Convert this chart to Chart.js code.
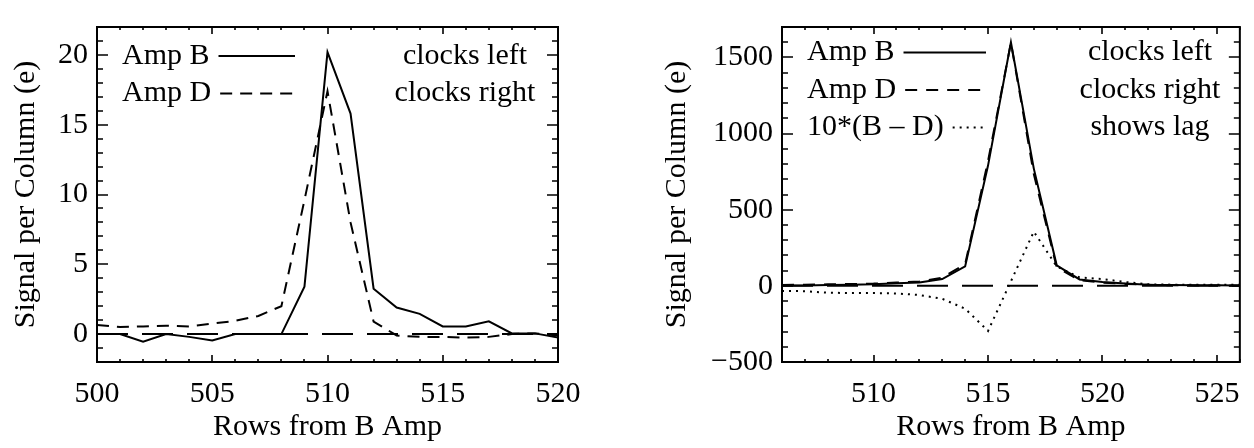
<!DOCTYPE html>
<html>
<head>
<meta charset="utf-8">
<script src="https://cdn.jsdelivr.net/npm/chart.js@4/dist/chart.umd.min.js"></script>
<style>
  html, body { margin: 0; padding: 0; background: #fff; }
  #wrap { position: relative; width: 1254px; height: 448px; overflow: hidden; }
  canvas { position: absolute; top: 0; }
</style>
</head>
<body>
<div id="wrap">
  <canvas id="faint" width="610" height="448" style="left:0"></canvas>
  <canvas id="bright" width="614" height="448" style="left:640px"></canvas>
</div>
<script>
// ---- Faint trail panel ----
const rowsFaint = [500, 501, 502, 503, 504, 505, 506, 507, 508, 509, 510,
                   511, 512, 513, 514, 515, 516, 517, 518, 519, 520];
const ampBFaint = [0.0, 0.0, -0.55, 0.0, -0.2, -0.45, 0.0, 0.0, 0.0, 3.4, 20.2,
                   15.8, 3.25, 1.9, 1.45, 0.55, 0.55, 0.92, 0.05, 0.05, -0.25];
const ampDFaint = [0.65, 0.5, 0.55, 0.6, 0.55, 0.75, 0.95, 1.3, 2.0, 9.6, 17.4,
                   8.0, 0.9, -0.1, -0.2, -0.2, -0.25, -0.2, 0.0, 0.05, -0.1];
const xTicksFaint = [500, 505, 510, 515, 520];
const yTicksFaint = [0, 5, 10, 15, 20];
const notesFaint = ['clocks left', 'clocks right'];

// ---- Bright trail panel ----
const rowsBright = [506, 507, 508, 509, 510, 511, 512, 513, 514, 515, 516,
                    517, 518, 519, 520, 521, 522, 523, 524, 525, 526];
const ampBBright = [3, 3, 5, 7, 10, 17, 22, 45, 128, 790, 1600,
                    770, 135, 42, 25, 15, 8, 5, 4, 4, 3];
const ampDBright = [6, 7, 10, 12, 15, 22, 28, 54, 143, 820, 1597,
                    734, 122, 37, 21, 13, 7, 4, 3, 3, 2];
const lagBright  = [-33, -35, -45, -47, -47, -50, -60, -85, -150, -296, 30,
                    356, 128, 55, 45, 25, 10, 8, 8, 8, 8];
const xTicksBright = [510, 515, 520, 525];
const yTicksBright = [-500, 0, 500, 1000, 1500];
const notesBright = ['clocks left', 'clocks right', 'shows lag'];

const zeroLevel = 0;
const SERIF = 'Liberation Serif';

const pts = (xs, ys) => xs.map((x, i) => ({ x: x, y: ys[i] }));
const fmt = v => String(v).replace('-', '\u2212');

// Box frame, inward minor/major ticks on all four sides, and the in-plot key
const frameAndKey = {
  id: 'frameAndKey',
  afterDatasetsDraw(chart, args, o) {
    const { ctx, chartArea: a } = chart;
    const x = chart.scales.x, y = chart.scales.y;
    ctx.save();
    ctx.strokeStyle = '#000';
    ctx.fillStyle = '#000';
    ctx.setLineDash([]);
    ctx.lineWidth = 2;
    ctx.strokeRect(a.left, a.top, a.right - a.left, a.bottom - a.top);

    ctx.lineWidth = 1.6;
    ctx.beginPath();
    const nx = Math.round(o.xMajor / o.xStep);
    for (let i = Math.ceil(x.min / o.xStep); i * o.xStep <= x.max + 1e-9; i++) {
      const px = Math.round(x.getPixelForValue(i * o.xStep));
      const len = (i % nx === 0) ? 7 : 3;
      ctx.moveTo(px, a.bottom); ctx.lineTo(px, a.bottom - len);
      ctx.moveTo(px, a.top); ctx.lineTo(px, a.top + len);
    }
    const ny = Math.round(o.yMajor / o.yStep);
    for (let i = Math.ceil(y.min / o.yStep); i * o.yStep <= y.max + 1e-9; i++) {
      const py = Math.round(y.getPixelForValue(i * o.yStep));
      const len = (i % ny === 0) ? 11 : 6;
      ctx.moveTo(a.left, py); ctx.lineTo(a.left + len, py);
      ctx.moveTo(a.right, py); ctx.lineTo(a.right - len, py);
    }
    ctx.stroke();

    // key rows: series name + line sample on the left, note centred on the right
    ctx.font = '30px "' + SERIF + '"';
    ctx.textBaseline = 'middle';
    o.keyRows.forEach((dsIndex, r) => {
      const ds = chart.data.datasets[dsIndex];
      const ry = a.top + o.keyTop + r * 37.5;
      ctx.textAlign = 'left';
      const tx = a.left + 25;
      ctx.fillText(ds.label, tx, ry);
      const w = ctx.measureText(ds.label).width;
      ctx.beginPath();
      ctx.lineWidth = ds.borderWidth;
      ctx.setLineDash(ds.borderDash || []);
      ctx.moveTo(tx + w + 9, ry);
      ctx.lineTo(a.left + o.sampleEnd, ry);
      ctx.stroke();
      ctx.setLineDash([]);
      ctx.textAlign = 'center';
      ctx.fillText(o.notes[r], a.left + 368, ry);
    });
    ctx.restore();
  }
};

function axisX(min, max, tickList) {
  return {
    type: 'linear', min: min, max: max,
    grid: { display: false, drawTicks: false },
    border: { display: false },
    afterBuildTicks: s => { s.ticks = tickList.map(v => ({ value: v })); },
    afterFit: s => { s.height = 86; },
    ticks: {
      autoSkip: false, maxRotation: 0, padding: 14, color: '#000',
      font: { family: SERIF, size: 30 }, callback: fmt
    },
    title: {
      display: true, text: 'Rows from B Amp', color: '#000',
      font: { family: SERIF, size: 30 }, padding: { top: 0, bottom: 3 }
    }
  };
}

function axisY(min, max, tickList, boxWidth, titlePad) {
  return {
    type: 'linear', min: min, max: max,
    grid: { display: false, drawTicks: false },
    border: { display: false },
    afterBuildTicks: s => { s.ticks = tickList.map(v => ({ value: v })); },
    afterFit: s => { s.width = boxWidth; },
    ticks: {
      autoSkip: false, padding: 9, color: '#000',
      font: { family: SERIF, size: 30 }, callback: fmt
    },
    title: {
      display: true, text: 'Signal per Column (e)', color: '#000',
      font: { family: SERIF, size: 30 }, padding: { top: titlePad, bottom: 0 }
    }
  };
}

function lineSet(label, data, dash) {
  return {
    label: label, data: data, borderColor: '#000', borderWidth: 2,
    borderDash: dash, pointRadius: 0, tension: 0, fill: false
  };
}

const common = {
  responsive: false, animation: false, devicePixelRatio: 1, events: [],
  plugins: { legend: { display: false }, tooltip: { enabled: false } }
};

new Chart(document.getElementById('faint'), {
  type: 'line',
  data: {
    datasets: [
      lineSet('', [{ x: rowsFaint[0], y: zeroLevel }, { x: rowsFaint[rowsFaint.length - 1], y: zeroLevel }], [31, 14]),
      lineSet('Amp D', pts(rowsFaint, ampDFaint), [12, 8]),
      lineSet('Amp B', pts(rowsFaint, ampBFaint), [])
    ]
  },
  options: Object.assign({}, common, {
    layout: { padding: { top: 8, right: 52, left: 0, bottom: 0 } },
    scales: {
      x: axisX(500, 520, xTicksFaint),
      y: axisY(-2, 22, yTicksFaint, 97, 8)
    },
    plugins: Object.assign({}, common.plugins, {
      frameAndKey: { xStep: 1, xMajor: 5, yStep: 1, yMajor: 5,
                     keyRows: [2, 1], keyTop: 29, sampleEnd: 198, notes: notesFaint }
    })
  }),
  plugins: [frameAndKey]
});

new Chart(document.getElementById('bright'), {
  type: 'line',
  data: {
    datasets: [
      lineSet('', [{ x: rowsBright[0], y: zeroLevel }, { x: rowsBright[rowsBright.length - 1], y: zeroLevel }], [31, 14]),
      lineSet('10*(B \u2013 D)', pts(rowsBright, lagBright), [2, 5]),
      lineSet('Amp D', pts(rowsBright, ampDBright), [12, 9]),
      lineSet('Amp B', pts(rowsBright, ampBBright), [])
    ]
  },
  options: Object.assign({}, common, {
    layout: { padding: { top: 8, right: 11, left: 0, bottom: 0 } },
    scales: {
      x: axisX(506, 526, xTicksBright),
      y: axisY(-500, 1700, yTicksBright, 142, 19)
    },
    plugins: Object.assign({}, common.plugins, {
      frameAndKey: { xStep: 1, xMajor: 5, yStep: 100, yMajor: 500,
                     keyRows: [3, 2, 1], keyTop: 25.5, sampleEnd: 204, notes: notesBright }
    })
  }),
  plugins: [frameAndKey]
});
</script>
</body>
</html>
